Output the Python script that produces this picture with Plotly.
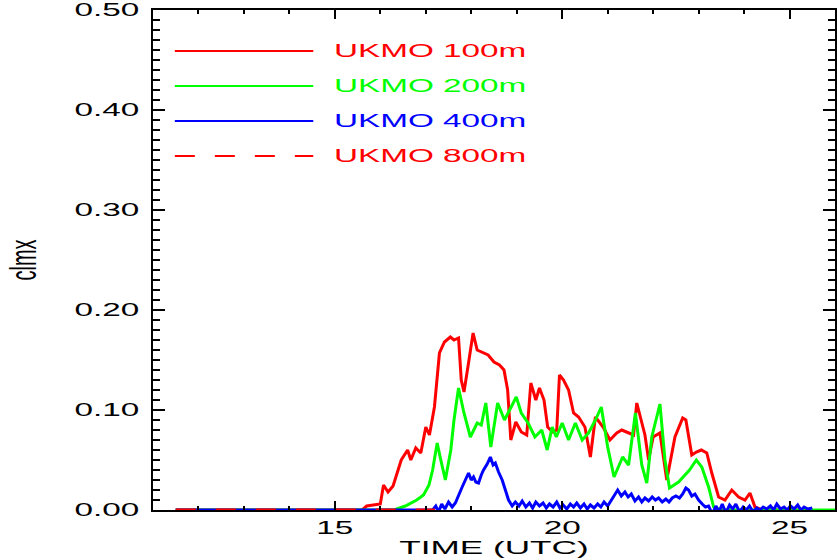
import plotly.graph_objects as go

# ---------------- data ----------------
series_names = ["UKMO 100m", "UKMO 200m", "UKMO 400m", "UKMO 800m"]
series_colors = ["#ff0000", "#00ff00", "#0000ff", "#ff0000"]
series_dash = ["solid", "solid", "solid", "20px,20px"]

t_100 = [11.5, 15.6, 15.7, 16.0, 16.07, 16.17, 16.28, 16.46, 16.6, 16.67, 16.78, 16.89,
         17.0, 17.08, 17.19, 17.3, 17.41, 17.54, 17.62, 17.72, 17.78, 17.84, 17.95,
         18.04, 18.13, 18.24, 18.37, 18.5, 18.62, 18.72, 18.8, 18.87, 18.98, 19.1,
         19.22, 19.31, 19.42, 19.5, 19.6, 19.68, 19.79, 19.88, 19.94, 20.03, 20.14,
         20.25, 20.36, 20.5, 20.62, 20.73, 20.9, 21.05, 21.2, 21.31, 21.43, 21.57,
         21.64, 21.72, 21.82, 21.9, 22.0, 22.15, 22.3, 22.48, 22.65, 22.72, 22.85,
         22.95, 23.06, 23.18, 23.29, 23.44, 23.58, 23.73, 23.88, 24.02, 24.13, 24.24,
         24.4, 25.5]
v_100 = [0.0, 0.0, 0.004, 0.006, 0.025, 0.018, 0.024, 0.05, 0.06, 0.05, 0.062, 0.057,
         0.083, 0.075, 0.103, 0.157, 0.168, 0.173, 0.17, 0.172, 0.13, 0.118, 0.15,
         0.177, 0.16, 0.158, 0.155, 0.148, 0.145, 0.14, 0.12, 0.07, 0.088, 0.078,
         0.075, 0.127, 0.11, 0.122, 0.11, 0.083, 0.078, 0.08, 0.135, 0.13, 0.12,
         0.097, 0.093, 0.083, 0.053, 0.093, 0.083, 0.07, 0.077, 0.08, 0.078, 0.075,
         0.107, 0.093, 0.075, 0.05, 0.073, 0.077, 0.03, 0.073, 0.092, 0.09, 0.055,
         0.058, 0.06, 0.057, 0.037, 0.013, 0.01, 0.02, 0.013, 0.01, 0.017, 0.003,
         0.0, 0.0]

t_200 = [11.5, 16.3, 16.55, 16.8, 16.95, 17.07, 17.15, 17.25, 17.33, 17.43, 17.55,
         17.62, 17.72, 17.84, 17.98, 18.13, 18.22, 18.32, 18.43, 18.58, 18.73, 18.84,
         18.99, 19.1, 19.25, 19.4, 19.55, 19.67, 19.78, 19.87, 20.0, 20.14, 20.29,
         20.44, 20.58, 20.73, 20.86, 21.0, 21.14, 21.33, 21.46, 21.61, 21.75, 21.86,
         21.97, 22.15, 22.26, 22.36, 22.56, 22.8, 22.95, 23.07, 23.22, 23.33, 23.5,
         26.0]
v_200 = [0.0, 0.0, 0.004, 0.01, 0.015, 0.025, 0.04, 0.067, 0.05, 0.03, 0.06,
         0.09, 0.122, 0.097, 0.073, 0.087, 0.085, 0.107, 0.063, 0.107, 0.09, 0.1,
         0.113, 0.097, 0.087, 0.073, 0.08, 0.06, 0.083, 0.073, 0.087, 0.07, 0.087,
         0.07, 0.077, 0.09, 0.103, 0.063, 0.033, 0.053, 0.045, 0.097, 0.045, 0.027,
         0.073, 0.106, 0.05, 0.022, 0.028, 0.04, 0.05, 0.043, 0.023, 0.003, 0.0,
         0.0]

t_400 = [11.5, 17.15, 17.22, 17.28, 17.35, 17.42, 17.5, 17.58, 17.65, 17.72, 17.8,
         17.87, 17.94, 18.0, 18.05, 18.1, 18.16, 18.22, 18.27, 18.35, 18.42, 18.48,
         18.53, 18.6, 18.68, 18.75, 18.82, 18.9, 18.97, 19.05, 19.12, 19.2, 19.28,
         19.35, 19.42, 19.5, 19.58, 19.65, 19.72, 19.8, 19.88, 19.95, 20.02, 20.1,
         20.18, 20.25, 20.32, 20.4, 20.48, 20.55, 20.62, 20.7, 20.78, 20.85, 20.92,
         21.0, 21.08, 21.15, 21.22, 21.3, 21.38, 21.45, 21.52, 21.6, 21.68, 21.75,
         21.82, 21.9, 21.98, 22.05, 22.12, 22.2, 22.28, 22.35, 22.42, 22.5, 22.58,
         22.65, 22.72, 22.78, 22.85, 22.92, 23.0, 23.08, 23.15, 23.22, 23.3, 23.38,
         23.45, 23.52, 23.6, 23.68, 23.75, 23.82, 23.9, 23.98, 24.05, 24.12, 24.2,
         24.28, 24.35, 24.42, 24.5, 24.58, 24.65, 24.72, 24.8, 24.88, 24.95, 25.02,
         25.1, 25.18, 25.25, 25.32, 25.4, 25.5]
v_400 = [0.0, 0.0, 0.004, -0.002, 0.006, 0.001, 0.008, 0.003, 0.007, 0.015, 0.023,
         0.03, 0.037, 0.03, 0.033, 0.028, 0.027, 0.035, 0.04, 0.046, 0.053, 0.045,
         0.047, 0.038, 0.03, 0.02, 0.01, 0.004, 0.008, 0.004, 0.009, 0.003, 0.007,
         0.002, 0.008, 0.004, 0.007, 0.002, 0.006, 0.003, 0.008, 0.002, 0.005, 0.001,
         0.006, 0.003, 0.007, 0.002, 0.006, 0.001, 0.005, 0.002, 0.006, 0.003, 0.008,
         0.004, 0.01, 0.015, 0.02, 0.014, 0.018, 0.013, 0.016, 0.009, 0.013, 0.008,
         0.012, 0.009, 0.013, 0.01, 0.012, 0.008, 0.011, 0.008, 0.012, 0.014, 0.012,
         0.016, 0.022, 0.02, 0.014, 0.016, 0.01, 0.006, 0.003, 0.004, -0.004, 0.004,
         -0.002, 0.006, -0.003, 0.005, 0.001, 0.006, -0.002, 0.003, 0.0, 0.004, -0.002,
         0.002, 0.0, 0.003, 0.001, 0.004, 0.0, 0.006, 0.001, 0.003, 0.0, 0.004,
         0.001, 0.005, 0.0, 0.003, 0.001, 0.002]

t_800 = [11.5, 14.0, 17.2]
v_800 = [0.0, 0.0, 0.0]

series_t = [t_100, t_200, t_400, t_800]
series_v = [v_100, v_200, v_400, v_800]

x_range = [11, 26]
x_ticks = [15, 20, 25]
y_range = [0, 0.5]
y_ticks = [0.0, 0.1, 0.2, 0.3, 0.4, 0.5]
x_title = "TIME (UTC)"
y_title = "clmx"

FONT = "Liberation Sans, Arial, sans-serif"

fig = go.Figure()
for name, t, v, col, dash in zip(series_names, series_t, series_v, series_colors, series_dash):
    fig.add_trace(go.Scatter(x=t, y=v, mode="lines", name=name, showlegend=False,
                             line=dict(color=col, width=3, dash=dash)))

# hand-drawn legend inside the plot (IDL style)
shapes = []
annotations = []
row_y = [0.918, 0.848, 0.778, 0.708]
for name, col, dash, yy in zip(series_names, series_colors, series_dash, row_y):
    shapes.append(dict(type="line", xref="paper", yref="paper", x0=0.032, x1=0.235,
                       y0=yy, y1=yy, line=dict(color=col, width=2, dash=dash)))
    annotations.append(dict(xref="paper", yref="paper", x=0.262, y=yy, text=name,
                            showarrow=False, xanchor="left", yanchor="middle", align="left",
                            font=dict(family=FONT, size=18, color=col)))

axis_common = dict(showline=True, linecolor="black", linewidth=2, mirror="allticks",
                   ticks="inside", tickcolor="black", tickwidth=2, showgrid=False,
                   zeroline=False,
                   tickfont=dict(family=FONT, size=18, color="black"))

fig.update_layout(
    width=837, height=560,
    margin=dict(l=153, r=2, t=10, b=50),
    paper_bgcolor="white", plot_bgcolor="white",
    shapes=shapes, annotations=annotations,
    xaxis=dict(range=x_range, tickvals=x_ticks, ticklen=9,
               minor=dict(ticks="inside", dtick=1, tick0=0, ticklen=4, tickwidth=2,
                          tickcolor="black", showgrid=False),
               title=dict(text=x_title, font=dict(family=FONT, size=19, color="black"),
                          standoff=4),
               automargin=False, **axis_common),
    yaxis=dict(range=y_range, tickvals=y_ticks, tickformat=".2f", ticklen=12,
               ticklabelstandoff=8,
               minor=dict(ticks="inside", dtick=0.01, tick0=0, ticklen=7, tickwidth=2,
                          tickcolor="black", showgrid=False),
               title=dict(text=y_title, font=dict(family=FONT, size=20, color="black"),
                          standoff=62),
               automargin=False, **axis_common),
)

# stretch all text horizontally (the reference lettering is horizontally stretched)
post = """
(function(){
  var S = 1.85;
  var gd = document.getElementById('{plot_id}');
  if (!gd) return;
  gd.querySelectorAll('svg text').forEach(function(t){
    var x = parseFloat(t.getAttribute('x')) || 0;
    var y = parseFloat(t.getAttribute('y')) || 0;
    var old = t.getAttribute('transform') || '';
    var px = x, py = y;
    var list = t.transform.baseVal;
    if (list.numberOfItems) {
      var m = list.consolidate().matrix;
      px = m.a*x + m.c*y + m.e; py = m.b*x + m.d*y + m.f;
    }
    t.setAttribute('transform', 'translate(' + px + ',' + py + ') scale(' + S + ',1) translate(' + (-px) + ',' + (-py) + ') ' + old);
  });
})();
"""

fig.write_html("out.html", post_script=post, config={"displayModeBar": False})
